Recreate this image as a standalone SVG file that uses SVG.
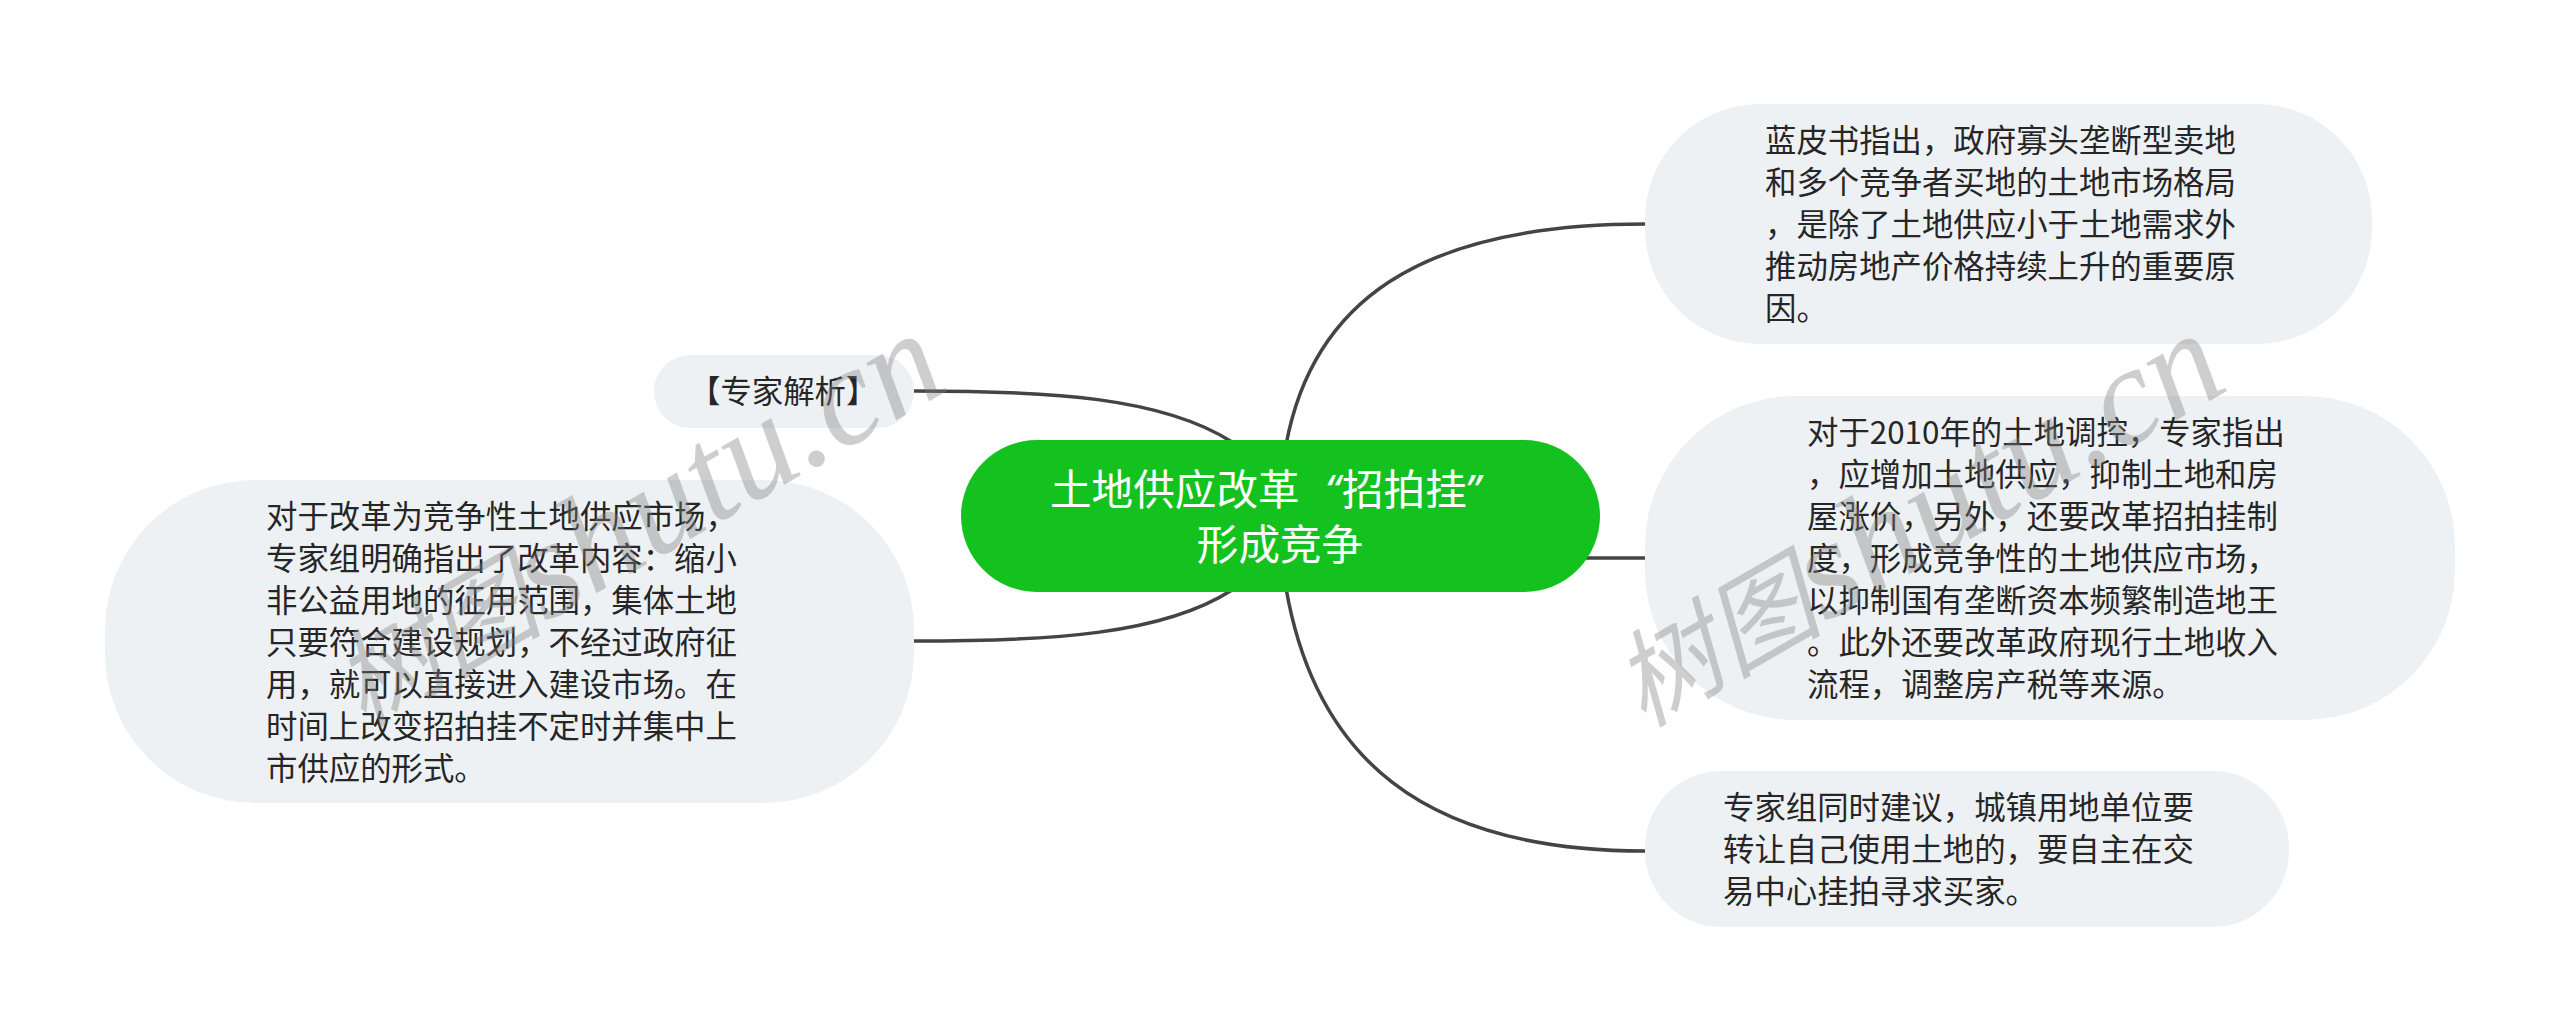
<svg xmlns="http://www.w3.org/2000/svg" width="2560" height="1033" viewBox="0 0 2560 1033">
<style>
.bg{fill:#eef1f4}
.t{font-family:"Noto Sans CJK SC",sans-serif;font-size:31.4px;fill:#262626}
.r{font-family:"Noto Sans CJK SC",sans-serif;font-size:41.6px;fill:#fff}
.q{font-family:"Noto Sans",sans-serif;font-style:italic}
.c{fill:none;stroke:#444;stroke-width:3.5}
.w{font-family:"Liberation Serif","Noto Sans CJK SC",serif;font-size:140px;font-style:italic;fill:#7f7f7f;fill-opacity:.38}
.wz{font-size:105px}
</style>
<rect width="2560" height="1033" fill="#fff"/>
<g id="connectors">
<path class="c" d="M1286 445C1312 305 1415 224 1645 224"/>
<path class="c" d="M1500 558H1645"/>
<path class="c" d="M1286 588C1315 755 1420 851 1645 851"/>
<path class="c" d="M914 391C1050 391 1162 397 1232 442"/>
<path class="c" d="M914 641C1050 641 1162 635 1232 590"/>
</g>
<g id="root"><rect x="961" y="440" width="639" height="152" rx="76" fill="#13c21f"/>
<text class="r" y="505"><tspan x="1050">土地供应改革</tspan><tspan class="q" x="1325">“</tspan><tspan x="1342">招拍挂</tspan><tspan class="q" x="1465">”</tspan></text><text class="r" x="1280" y="560" text-anchor="middle">形成竞争</text></g>
<g id="n-expert"><rect class="bg" x="654" y="355" width="260" height="73" rx="36"/><text class="t" x="689" y="403">【专家解析】</text></g>
<g id="n-left"><rect class="bg" x="105" y="480" width="809" height="323" rx="150"/>
<text class="t"><tspan x="266" y="528">对于改革为竞争性土地供应市场，</tspan><tspan x="266" y="570">专家组明确指出了改革内容：缩小</tspan><tspan x="266" y="612">非公益用地的征用范围，集体土地</tspan><tspan x="266" y="654">只要符合建设规划，不经过政府征</tspan><tspan x="266" y="696">用，就可以直接进入建设市场。在</tspan><tspan x="266" y="738">时间上改变招拍挂不定时并集中上</tspan><tspan x="266" y="780">市供应的形式。</tspan></text></g>
<g id="n-r1"><rect class="bg" x="1645" y="104" width="727" height="240" rx="115"/>
<text class="t"><tspan x="1765" y="152">蓝皮书指出，政府寡头垄断型卖地</tspan><tspan x="1765" y="194">和多个竞争者买地的土地市场格局</tspan><tspan x="1765" y="236">，是除了土地供应小于土地需求外</tspan><tspan x="1765" y="278">推动房地产价格持续上升的重要原</tspan><tspan x="1765" y="320">因。</tspan></text></g>
<g id="n-r2"><rect class="bg" x="1645" y="396" width="810" height="324" rx="150"/>
<text class="t"><tspan x="1807" y="444">对于2010年的土地调控，专家指出</tspan><tspan x="1807" y="486">，应增加土地供应，抑制土地和房</tspan><tspan x="1807" y="528">屋涨价，另外，还要改革招拍挂制</tspan><tspan x="1807" y="570">度，形成竞争性的土地供应市场，</tspan><tspan x="1807" y="612">以抑制国有垄断资本频繁制造地王</tspan><tspan x="1807" y="654">。此外还要改革政府现行土地收入</tspan><tspan x="1807" y="696">流程，调整房产税等来源。</tspan></text></g>
<g id="n-r3"><rect class="bg" x="1645" y="771" width="644" height="156" rx="76"/>
<text class="t"><tspan x="1723" y="819">专家组同时建议，城镇用地单位要</tspan><tspan x="1723" y="861">转让自己使用土地的，要自主在交</tspan><tspan x="1723" y="903">易中心挂拍寻求买家。</tspan></text></g>
<text class="w" transform="translate(363 728) rotate(-30)"><tspan class="wz">树图</tspan>shutu.cn</text>
<text class="w" transform="translate(1643 728) rotate(-30)"><tspan class="wz">树图</tspan>shutu.cn</text>
</svg>
